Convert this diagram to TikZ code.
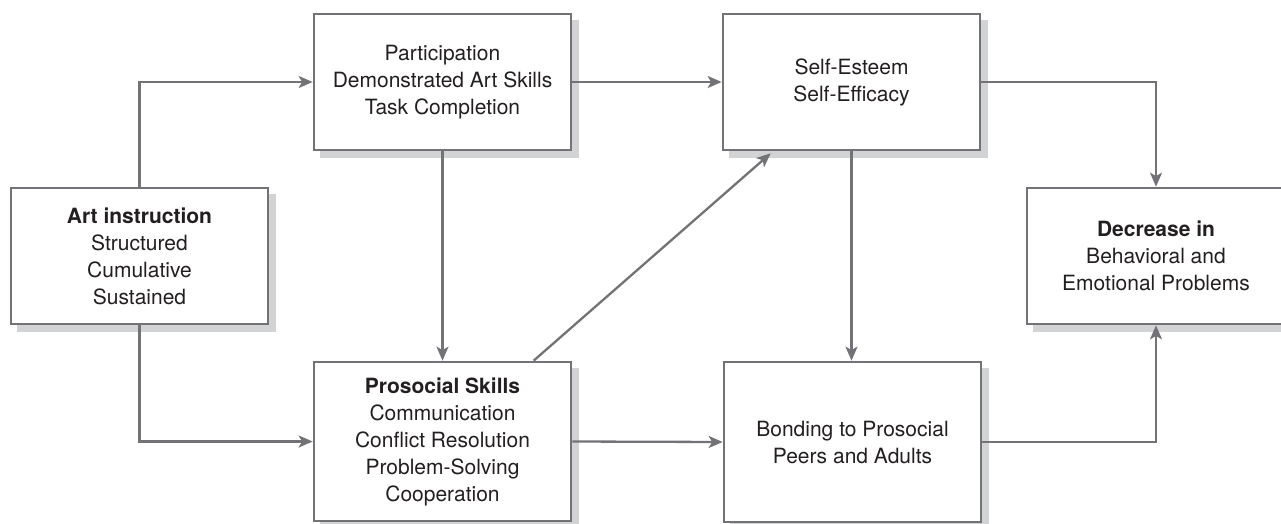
\documentclass[tikz,border=0pt]{standalone}
\usepackage{fontspec}
\setmainfont{TeX Gyre Heros}
\usetikzlibrary{arrows.meta,backgrounds}
\definecolor{boxline}{HTML}{737377}
\definecolor{shadowc}{HTML}{D2D3D5}
\definecolor{txt}{HTML}{231F20}
\tikzset{
  flowbox/.style={draw=boxline, line width=2.7pt, fill=white, align=center,
    text=txt, inner sep=0pt, font=\fontsize{21}{27}\selectfont},
  shadowbox/.style={fill=shadowc},
  conn/.style={draw=boxline, line width=2.3pt,
    -{Stealth[length=14pt,width=12pt,inset=3.5pt]}}
}
\begin{document}
\begin{tikzpicture}[x=1pt,y=-1pt]
\useasboundingbox (0,0) rectangle (1281,524);
\clip (0,0) rectangle (1281,524);
\node[flowbox, minimum width=257pt, minimum height=136pt] (art) at (139.5,256)
  {\textbf{Art instruction}\\Structured\\Cumulative\\Sustained};
\node[flowbox, minimum width=257pt, minimum height=136pt] (part) at (442.5,82)
  {Participation\\Demonstrated Art Skills\\Task Completion};
\node[flowbox, minimum width=257pt, minimum height=136pt] (self) at (851.5,82)
  {Self-Esteem\\Self-Efficacy};
\node[flowbox, minimum width=258pt, minimum height=136pt] (dec) at (1156,256)
  {\textbf{Decrease in}\\Behavioral and\\Emotional Problems};
\node[flowbox, minimum width=257pt, minimum height=159pt] (pro) at (442.5,441.5)
  {\textbf{Prosocial Skills}\\Communication\\Conflict Resolution\\Problem-Solving\\Cooperation};
\node[flowbox, minimum width=257pt, minimum height=160pt] (bond) at (852.5,442)
  {Bonding to Prosocial\\Peers and Adults};
\begin{scope}[on background layer]
  \fill[white] (0,0) rectangle (1281,524);
  \foreach \n in {art,part,self,dec,pro,bond}
    \fill[shadowbox] ([shift={(7pt,-7pt)}]\n.south west) rectangle ([shift={(7pt,-7pt)}]\n.north east);
\end{scope}
\draw[conn] (art.north) |- (part.west);
\draw[conn] (art.south) |- (pro.west);
\draw[conn] (part.south) -- (pro.north);
\draw[conn] (part.east) -- (self.west);
\draw[conn] ([xshift=221pt]pro.north west) -- ([xshift=49pt,yshift=-2pt]self.south west);
\draw[conn] (self.south) -- (self.south |- bond.north);
\draw[conn] (self.east) -| (dec.north);
\draw[conn] (pro.east) -- (bond.west);
\draw[conn] (bond.east) -| (dec.south);
\end{tikzpicture}
\end{document}
